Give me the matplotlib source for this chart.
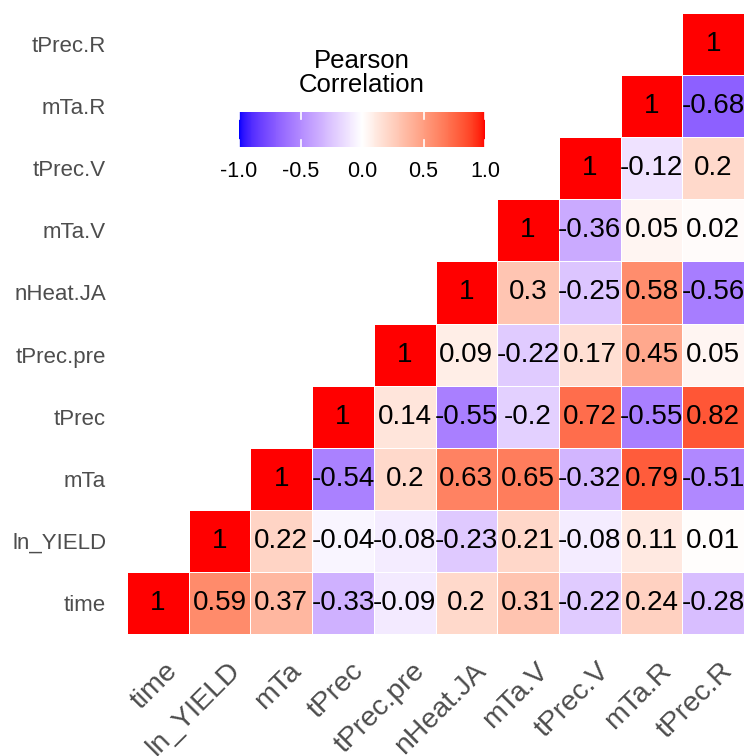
import numpy as np
import matplotlib
matplotlib.use('Agg')
import matplotlib.pyplot as plt
import matplotlib.transforms as mtransforms
from matplotlib.colors import ListedColormap

plt.rcParams['font.family'] = ['Liberation Sans', 'DejaVu Sans']

variables = ['time', 'ln_YIELD', 'mTa', 'tPrec', 'tPrec.pre', 'nHeat.JA',
             'mTa.V', 'tPrec.V', 'mTa.R', 'tPrec.R']

# upper triangle of the correlation matrix, one row per variable
# (row i lists correlations with variables i, i+1, ..., last)
r_time = [1, 0.59, 0.37, -0.33, -0.09, 0.2, 0.31, -0.22, 0.24, -0.28]
r_ln_yield = [1, 0.22, -0.04, -0.08, -0.23, 0.21, -0.08, 0.11, 0.01]
r_mta = [1, -0.54, 0.2, 0.63, 0.65, -0.32, 0.79, -0.51]
r_tprec = [1, 0.14, -0.55, -0.2, 0.72, -0.55, 0.82]
r_tprec_pre = [1, 0.09, -0.22, 0.17, 0.45, 0.05]
r_nheat = [1, 0.3, -0.25, 0.58, -0.56]
r_mta_v = [1, -0.36, 0.05, 0.02]
r_tprec_v = [1, -0.12, 0.2]
r_mta_r = [1, -0.68]
r_tprec_r = [1]

rows = [r_time, r_ln_yield, r_mta, r_tprec, r_tprec_pre, r_nheat,
        r_mta_v, r_tprec_v, r_mta_r, r_tprec_r]

n = len(variables)
corr = np.full((n, n), np.nan)
for i, row in enumerate(rows):
    corr[i, i:] = row


# blue -> white -> red gradient interpolated in Lab space
def srgb_to_lab(rgb):
    c = np.asarray(rgb, dtype=float)
    lin = np.where(c <= 0.04045, c / 12.92, ((c + 0.055) / 1.055) ** 2.4)
    m = np.array([[0.4124, 0.3576, 0.1805],
                  [0.2126, 0.7152, 0.0722],
                  [0.0193, 0.1192, 0.9505]])
    xyz = m @ lin / np.array([0.95047, 1.0, 1.08883])
    f = np.where(xyz > 216 / 24389, np.cbrt(xyz), (24389 / 27 * xyz + 16) / 116)
    return np.array([116 * f[1] - 16, 500 * (f[0] - f[1]), 200 * (f[1] - f[2])])


def lab_to_srgb(lab):
    L, a, b = lab
    fy = (L + 16) / 116
    fx = fy + a / 500
    fz = fy - b / 200
    f = np.array([fx, fy, fz])
    xyz = np.where(f ** 3 > 216 / 24389, f ** 3, (116 * f - 16) / (24389 / 27))
    xyz = xyz * np.array([0.95047, 1.0, 1.08883])
    m = np.array([[3.2406, -1.5372, -0.4986],
                  [-0.9689, 1.8758, 0.0415],
                  [0.0557, -0.2040, 1.0570]])
    lin = np.clip(m @ xyz, 0, 1)
    c = np.where(lin <= 0.0031308, lin * 12.92, 1.055 * lin ** (1 / 2.4) - 0.055)
    return np.clip(c, 0, 1)


low, mid, high = srgb_to_lab([0, 0, 1]), srgb_to_lab([1, 1, 1]), srgb_to_lab([1, 0, 0])
colors = []
for t in np.linspace(-1, 1, 256):
    if t < 0:
        lab = mid + (low - mid) * (-t)
    else:
        lab = mid + (high - mid) * t
    colors.append(lab_to_srgb(lab))
cmap = ListedColormap(colors)

fig = plt.figure(figsize=(7.44, 7.56), dpi=100)
ax = fig.add_axes([127 / 744, 122 / 756, 617 / 744, 621 / 756])

edges = np.arange(n + 1) - 0.5
# corr[i, j]: row i is the y variable, column j the x variable
mesh = ax.pcolormesh(edges, edges, np.ma.masked_invalid(corr), cmap=cmap,
                     vmin=-1, vmax=1, edgecolors='white', linewidth=0.6)

for i in range(n):
    for j in range(i, n):
        ax.text(j, i, f'{corr[i, j]:g}', ha='center', va='center',
                fontsize=20, color='black')

ax.set_xlim(-0.5, n - 0.5)
ax.set_ylim(-0.5, n - 0.5)
for s in ax.spines.values():
    s.set_visible(False)

ax.set_yticks(range(n))
ax.set_yticklabels(variables, fontsize=16, color='#4D4D4D')
ax.tick_params(axis='y', length=0, pad=15)

ax.set_xticks(range(n))
ax.set_xticklabels(variables, fontsize=20.5, color='#4D4D4D', rotation=45,
                   ha='right', va='top', rotation_mode='anchor')
ax.tick_params(axis='x', length=0, pad=17)
shift = mtransforms.ScaledTranslation(7 / 100, 0, fig.dpi_scale_trans)
for lbl in ax.get_xticklabels():
    lbl.set_transform(lbl.get_transform() + shift)

# horizontal colour bar legend
cax = fig.add_axes([239 / 744, (756 - 147) / 756, 246 / 744, 35 / 756])
cbar = fig.colorbar(mesh, cax=cax, orientation='horizontal')
cbar.outline.set_visible(False)
ticks = [-1.0, -0.5, 0.0, 0.5, 1.0]
cbar.set_ticks(ticks)
cbar.set_ticklabels([f'{t:.1f}' for t in ticks])
cax.tick_params(length=0, labelsize=15.5, colors='black', pad=10)
for t in ticks:
    cax.plot([t, t], [0, 0.2], color='white', lw=1.2, transform=cax.get_xaxis_transform(), clip_on=False)
    cax.plot([t, t], [0.8, 1], color='white', lw=1.2, transform=cax.get_xaxis_transform(), clip_on=False)
fig.text(362 / 744, (756 - 73) / 756, 'Pearson\nCorrelation', ha='center',
         va='center', fontsize=18.5, linespacing=0.95)

fig.savefig('out.png', dpi=100)
